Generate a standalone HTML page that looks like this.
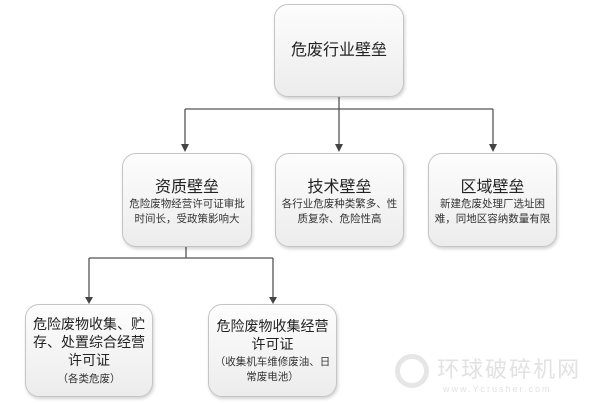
<!DOCTYPE html>
<html><head><meta charset="utf-8"><style>
body{margin:0;width:600px;height:403px;background:#fff;position:relative;overflow:hidden;font-family:"Liberation Sans","Noto Sans CJK SC",sans-serif;color:#222}
.b{position:absolute;border:1px solid #c4c4c4;border-radius:14px;background:linear-gradient(#fdfdfd,#ececec);box-shadow:1px 2px 3px rgba(0,0,0,.18);display:flex;flex-direction:column;align-items:center;justify-content:center;text-align:center;box-sizing:border-box;white-space:nowrap}
.t{font-size:16px;line-height:19px}
.t2{font-size:14px;line-height:18px}
.s{font-size:10.5px;line-height:15px;color:#333}
</style></head><body>
<svg width="600" height="403" style="position:absolute;left:0;top:0">
<g stroke="#555" stroke-width="1.3" fill="none">
<line x1="339" y1="97" x2="339" y2="109"/>
<line x1="185" y1="109" x2="493" y2="109"/>
<line x1="185" y1="109" x2="185" y2="146"/>
<line x1="339" y1="109" x2="339" y2="146"/>
<line x1="493" y1="109" x2="493" y2="146"/>
<line x1="186" y1="247" x2="186" y2="258"/>
<line x1="89" y1="258" x2="273" y2="258"/>
<line x1="89" y1="258" x2="89" y2="298"/>
<line x1="273" y1="258" x2="273" y2="298"/>
</g>
<g fill="#444">
<polygon points="181,144 189,144 185,152"/>
<polygon points="335,144 343,144 339,152"/>
<polygon points="489,144 497,144 493,152"/>
<polygon points="85,297 93,297 89,304"/>
<polygon points="269,297 277,297 273,304"/>
</g>
</svg>
<div class="b" style="left:274px;top:4px;width:130px;height:93px"><div class="t">危废行业壁垒</div></div>
<div class="b" style="left:122px;top:153px;width:130px;height:94px;padding-top:4px"><div class="t">资质壁垒</div><div class="s">危险废物经营许可证审批<br>时间长，受政策影响大</div></div>
<div class="b" style="left:275px;top:153px;width:129px;height:94px;padding-top:4px"><div class="t">技术壁垒</div><div class="s">各行业危废种类繁多、性<br>质复杂、危险性高</div></div>
<div class="b" style="left:428px;top:153px;width:129px;height:94px;padding-top:4px"><div class="t">区域壁垒</div><div class="s">新建危废处理厂选址困<br>难，同地区容纳数量有限</div></div>
<div class="b" style="left:25px;top:304px;width:128px;height:93px"><div class="t2">危险废物收集、贮<br>存、处置综合经营<br>许可证</div><div class="s" style="margin-top:3px">（各类危废）</div></div>
<div class="b" style="left:208px;top:304px;width:129px;height:93px"><div class="t2">危险废物收集经营<br>许可证</div><div class="s" style="margin-top:2px">（收集机车维修废油、日<br>常废电池）</div></div>
<div style="position:absolute;left:395px;top:352px;width:200px;height:50px;color:#e2e2e2;font-size:22px;letter-spacing:2px;white-space:nowrap">
<span style="display:inline-block;width:34px;height:34px;border:5px solid #e6e6e6;border-radius:50%;box-sizing:border-box;vertical-align:middle"></span> 环球破碎机网
<div style="font-size:9px;letter-spacing:2px;margin-left:48px;margin-top:-4px">www.Ycrusher.com</div></div>
</body></html>
